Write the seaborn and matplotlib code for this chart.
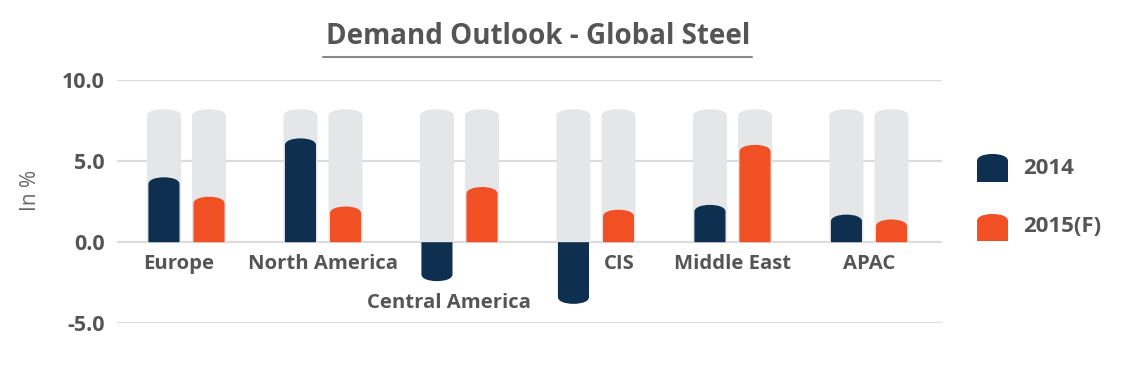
import numpy as np
import pandas as pd
import matplotlib.pyplot as plt
import seaborn as sns
from matplotlib.path import Path
from matplotlib.patches import PathPatch
from matplotlib.lines import Line2D

# data
regions = ["Europe", "North America", "Central America", "CIS", "Middle East", "APAC"]
demand_2014 = [4.0, 6.4, -2.4, -3.8, 2.3, 1.7]
demand_2015 = [2.8, 2.2, 3.4, 2.0, 6.0, 1.4]
series = ["2014", "2015(F)"]
track_max = 8.2

df = pd.DataFrame({
    "region": regions * 2,
    "year": [series[0]] * len(regions) + [series[1]] * len(regions),
    "value": demand_2014 + demand_2015,
})
df["track"] = track_max

NAVY = "#0e2f50"
ORANGE = "#f15025"
TRACK = "#e5e6e8"
TEXT = "#555555"

sns.set_theme(style="white")
plt.rcParams["font.family"] = ["Open Sans", "DejaVu Sans"]

W, H = 1134, 367
fig = plt.figure(figsize=(W / 100, H / 100), dpi=100)
ax = fig.add_axes([117 / W, 1 - 323.3 / H, (942 - 117) / W, (323.3 - 80) / H])


def rounded_path(x0, y0, w, h, cap, k=0.6):
    # bar with an elliptic cap on the far end (works for negative h too)
    s = 1 if h >= 0 else -1
    c = min(cap, abs(h)) * s
    top = y0 + h
    verts = [(x0, y0), (x0 + w, y0), (x0 + w, top - c),
             (x0 + w, top - c + k * c), (x0 + w / 2 + k * w / 2, top), (x0 + w / 2, top),
             (x0 + w / 2 - k * w / 2, top), (x0, top - c + k * c), (x0, top - c),
             (x0, y0)]
    codes = [Path.MOVETO, Path.LINETO, Path.LINETO,
             Path.CURVE4, Path.CURVE4, Path.CURVE4,
             Path.CURVE4, Path.CURVE4, Path.CURVE4,
             Path.CLOSEPOLY]
    return Path(verts, codes)


# grey tracks behind the bars
sns.barplot(df, x="region", y="track", hue="year", palette=[TRACK, TRACK],
            width=0.66, gap=0.245, saturation=1, errorbar=None, legend=False, ax=ax)
# actual values
sns.barplot(df, x="region", y="value", hue="year", palette=[NAVY, ORANGE],
            width=0.66, gap=0.31, saturation=1, errorbar=None, legend=False, ax=ax)

# swap plain rectangles for rounded-cap bars
for p in list(ax.patches):
    x, w, h = p.get_x(), p.get_width(), p.get_height()
    fc = p.get_facecolor()
    z = p.get_zorder()
    p.remove()
    ax.add_patch(PathPatch(rounded_path(x, 0, w, h, 0.42), facecolor=fc,
                           edgecolor="none", lw=0, zorder=z))

ax.set_xlim(-0.509, 5.535)
ax.set_ylim(-5, 10)
ax.set_yticks([-5, 0, 5, 10])
ax.set_yticklabels(["-5.0", "0.0", "5.0", "10.0"])
ax.set_xticks([])
ax.set_xlabel("")
ax.set_ylabel("")
ax.tick_params(axis="y", length=0, pad=9, labelsize=15.5, labelcolor=TEXT)
for lab in ax.get_yticklabels():
    lab.set_fontweight("bold")
ax.set_axisbelow(True)
ax.yaxis.grid(True, color="#dcdcdc", lw=1.6)
ax.xaxis.grid(False)
sns.despine(ax=ax, left=True, bottom=True)

# category labels, nudged around the negative bars like the original
label_dx = [-0.06, 0.0, -0.08, 0.17, 0.0, 0.0]
label_y = [-1.35, -1.35, -3.75, -1.35, -1.35, -1.35]
for i, name in enumerate(regions):
    ax.text(i + label_dx[i], label_y[i], name, ha="center", va="center",
            fontsize=14.6, fontweight="bold", color=TEXT, clip_on=False)

# title with underline
fig.text(538 / W, 1 - 37 / H, "Demand Outlook - Global Steel", ha="center", va="center",
         fontsize=20, fontweight="bold", color=TEXT)
fig.add_artist(Line2D([323 / W, 752 / W], [1 - 57 / H, 1 - 57 / H],
                      transform=fig.transFigure, color="#888888", lw=1.5))

fig.text(30 / W, 1 - 190 / H, "In %", rotation=90, ha="center", va="center",
         fontsize=15, color="#666666")

# legend drawn by hand so the swatches get the same rounded cap
legend_rows = [(154, 182, NAVY, series[0], 169), (214, 241, ORANGE, series[1], 227)]
for top, bot, col, lab, ty in legend_rows:
    fig.add_artist(PathPatch(
        rounded_path(977 / W, 1 - bot / H, 31 / W, (bot - top) / H, 7 / H),
        transform=fig.transFigure, facecolor=col, edgecolor="none", lw=0))
    fig.text(1023 / W, 1 - ty / H, lab, ha="left", va="center",
             fontsize=16, fontweight="bold", color=TEXT)

fig.savefig("out.png", dpi=100)
